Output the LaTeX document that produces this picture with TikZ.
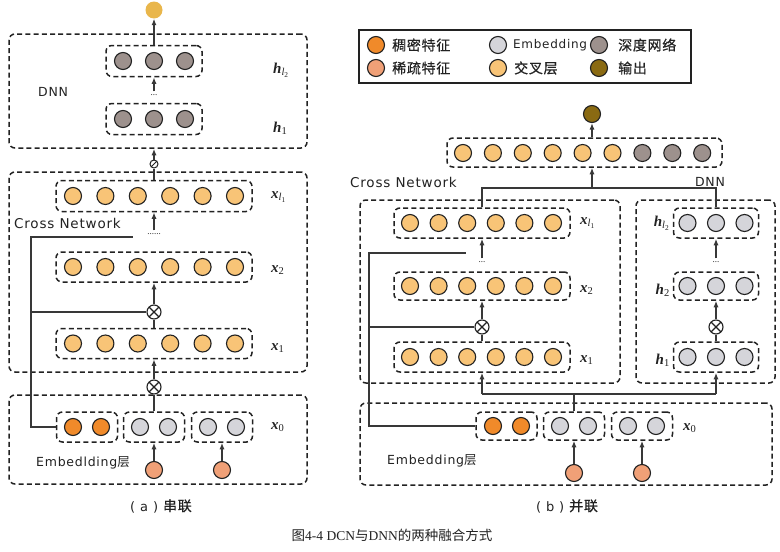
\documentclass[tikz,border=0pt]{standalone}
\usepackage{fontspec}
\setmainfont{Liberation Serif}
\newfontfamily\cjk{Noto Sans CJK SC}
\newfontfamily\cjkb[LetterSpace=5,FakeBold=0.6]{Noto Sans CJK SC}
\newfontfamily\hand[LetterSpace=6]{DejaVu Sans}
\usetikzlibrary{arrows.meta,calc}
\definecolor{densec}{HTML}{F08A2A}
\definecolor{sparsec}{HTML}{F0A077}
\definecolor{embc}{HTML}{D5D5DA}
\definecolor{crossc}{HTML}{F8C477}
\definecolor{deepc}{HTML}{9D918D}
\definecolor{outbc}{HTML}{8A6A12}
\definecolor{outac}{HTML}{E9B64B}
\definecolor{ink}{HTML}{222222}
\newcommand{\vx}[1]{\textbf{\textit{x}}\textsubscript{#1}}
\newcommand{\vh}[1]{\textbf{\textit{h}}\textsubscript{#1}}
\begin{document}
\begin{tikzpicture}[x=1pt,y=-1pt,
  dbox/.style={draw=ink, line width=1.5pt, dash pattern=on 5pt off 3.2pt, rounded corners=6pt, inner sep=0pt},
  neu/.style={circle, draw=ink, line width=1.1pt, minimum size=17pt, inner sep=0pt},
  conn/.style={line width=1.2pt, draw=ink!90},
  arr/.style={conn, -{Latex[length=6.5pt,width=5pt]}},
  otim/.style={circle, draw=ink, line width=1.1pt, minimum size=14pt, fill=white, inner sep=0pt,
    path picture={\draw[line width=1.1pt] (path picture bounding box.north west) -- (path picture bounding box.south east)
      (path picture bounding box.north east) -- (path picture bounding box.south west);}},
  slsh/.style={circle, draw=ink, line width=1pt, minimum size=8pt, fill=white, inner sep=0pt,
    path picture={\draw[line width=1pt] (path picture bounding box.south west) -- (path picture bounding box.north east);}},
  hlab/.style={font=\hand\fontsize{12.5}{14}\selectfont, text=ink, inner sep=0pt},
  mlab/.style={font=\fontsize{15}{17}\selectfont, text=ink, inner sep=0pt},
  dots/.style={font=\fontsize{9}{10}\selectfont, text=ink, inner sep=3pt},
  legt/.style={font=\cjkb\fontsize{14}{16}\selectfont, text=ink, anchor=west, inner sep=0pt}
]
\useasboundingbox (0,0) rectangle (780,552);
\fill[white] (0,0) rectangle (780,552);

% ================= (a) =================
\node[dbox, minimum width=298pt, minimum height=114pt] (dnnA) at (158,91) {};
\node[dbox, minimum width=298pt, minimum height=200pt] (crossA) at (158,272) {};
\node[dbox, minimum width=298pt, minimum height=89pt] (embA) at (158,439.5) {};

\node[circle, fill=outac, minimum size=17pt, inner sep=0pt] (outA) at (154,10) {};

\node[dbox, minimum width=96pt, minimum height=31pt] (hl2A) at (154,61) {};
\foreach \i in {0,1,2} \node[neu, fill=deepc] (hl2A\i) at ({123+31*\i},61) {};
\node[dbox, minimum width=96pt, minimum height=31pt] (h1A) at (154,119) {};
\foreach \i in {0,1,2} \node[neu, fill=deepc] (h1A\i) at ({123+31*\i},119) {};
\node[dots] (dotsA1) at (154,95) {...};
\draw[arr] (hl2A.north) -- (outA.south);
\draw[arr] (dotsA1.north) -- (hl2A.south);
\node[mlab, anchor=west] (lhl2A) at (273,70) {\vh{\textit{l}\textsubscript{2}}};
\node[mlab, anchor=west] (lh1A) at (273,128) {\vh{1}};
\node[hlab, anchor=west] (dnnlabA) at (38,92) {DNN};

\node[dbox, minimum width=196pt, minimum height=31pt] (xl1A) at (154,196) {};
\foreach \i in {0,...,5} \node[neu, fill=crossc] (xl1A\i) at ({73+32.4*\i},196) {};
\node[slsh] (symA) at (154,164) {};
\draw[conn] (xl1A.north) -- (symA.south);
\draw[arr] (symA.north) -- (symA.north |- dnnA.south);
\node[mlab, anchor=west] (lxl1A) at (271,197) {\vx{\textit{l}\textsubscript{1}}};
\node[hlab, anchor=west, font=\hand\fontsize{13.5}{15}\selectfont] (crosslabA) at (14,223) {Cross Network};
\node[dots] (dotsA2) at (154,234) {......};
\draw[arr] (dotsA2.north) -- (xl1A.south);
\coordinate (cA1) at (31,237);
\coordinate (cA2) at (133,237);

\node[dbox, minimum width=196pt, minimum height=30pt] (x2A) at (154,267) {};
\foreach \i in {0,...,5} \node[neu, fill=crossc] (x2A\i) at ({73+32.4*\i},267) {};
\node[mlab, anchor=west] (lx2A) at (271,270) {\vx{2}};
\node[otim] (otA1) at (154,312) {};
\node[dbox, minimum width=196pt, minimum height=30pt] (x1A) at (154,343.5) {};
\foreach \i in {0,...,5} \node[neu, fill=crossc] (x1A\i) at ({73+32.4*\i},343.5) {};
\node[mlab, anchor=west] (lx1A) at (271,348) {\vx{1}};
\draw[arr] (otA1.north) -- (x2A.south);
\draw[conn] (x1A.north) -- (otA1.south);
\draw[conn] (otA1.west) -- (otA1.west -| cA1);
\node[otim] (otA2) at (154,387) {};
\draw[arr] (otA2.north) -- (x1A.south);

\node[dbox, minimum width=61pt, minimum height=30pt] (eoA) at (87,427) {};
\node[neu, fill=densec] (eoA0) at (73,427) {};
\node[neu, fill=densec] (eoA1) at (101,427) {};
\node[dbox, minimum width=61pt, minimum height=30pt] (g1A) at (154,427) {};
\node[neu, fill=embc] (g1A0) at (140,427) {};
\node[neu, fill=embc] (g1A1) at (168,427) {};
\node[dbox, minimum width=61pt, minimum height=30pt] (g2A) at (222,427) {};
\node[neu, fill=embc] (g2A0) at (208,427) {};
\node[neu, fill=embc] (g2A1) at (236,427) {};
\node[mlab, anchor=west] (lx0A) at (271,427) {\vx{0}};
\draw[conn] (g1A.north) -- (otA2.south);
\draw[conn] (eoA.west) -| (cA1) -- (cA2);
\node[neu, fill=sparsec] (sA1) at (154,470) {};
\node[neu, fill=sparsec] (sA2) at (222,470) {};
\draw[arr] (sA1.north) -- (g1A.south);
\draw[arr] (sA2.north) -- (g2A.south);
\node[hlab, anchor=west] (emblabA) at (36,463) {Embedlding{\cjk 层}};
\node[hlab, font=\hand\fontsize{13}{15}\selectfont] (capA) at (161,506) {( a )\ {\cjkb\fontsize{14}{16}\selectfont 串联}};

% ================= (b) =================
\node[draw=ink, line width=1.3pt, minimum width=332pt, minimum height=53pt, inner sep=0pt] (legend) at (525,56.5) {};
\node[neu, fill=densec] (lg1) at (376,45) {};
\node[legt] (lgt1) at (392,45) {稠密特征};
\node[neu, fill=sparsec] (lg2) at (376,68) {};
\node[legt] (lgt2) at (392,68) {稀疏特征};
\node[neu, fill=embc] (lg3) at (498,45) {};
\node[hlab, anchor=west, font=\hand\fontsize{12}{14}\selectfont] (lgt3) at (513,45) {Embedding};
\node[neu, fill=crossc] (lg4) at (498,68) {};
\node[legt] (lgt4) at (514,68) {交叉层};
\node[neu, fill=deepc] (lg5) at (599,45) {};
\node[legt] (lgt5) at (618,45) {深度网络};
\node[neu, fill=outbc] (lg6) at (599,68) {};
\node[legt] (lgt6) at (618,68) {输出};

\node[neu, fill=outbc] (outB) at (592,114) {};
\node[dbox, minimum width=275pt, minimum height=29pt] (catB) at (584.5,152.5) {};
\foreach \i in {0,...,5} \node[neu, fill=crossc] (catB\i) at ({463+29.9*\i},153) {};
\foreach \i in {6,7,8} \node[neu, fill=deepc] (catB\i) at ({463+29.9*\i},153) {};
\draw[arr] (outB |- catB.north) -- (outB.south);
\coordinate (jB) at (592,188);
\draw[arr] (jB) -- (jB |- catB.south);

\node[hlab, anchor=west, font=\hand\fontsize{13.5}{15}\selectfont] (crosslabB) at (350,182) {Cross Network};
\node[hlab] (dnnlabB) at (710,182) {DNN};

\node[dbox, minimum width=260pt, minimum height=183pt] (crossB) at (490,291.5) {};
\node[dbox, minimum width=139pt, minimum height=183pt] (dnnB) at (705.5,291.5) {};
\node[dbox, minimum width=412pt, minimum height=82pt] (embB) at (566,444) {};

\node[dbox, minimum width=176pt, minimum height=30pt] (xl1B) at (482,223) {};
\foreach \i in {0,...,5} \node[neu, fill=crossc] (xl1B\i) at ({410+28.6*\i},223) {};
\node[dbox, minimum width=176pt, minimum height=28pt] (x2B) at (482,286) {};
\foreach \i in {0,...,5} \node[neu, fill=crossc] (x2B\i) at ({410+28.6*\i},286) {};
\node[dbox, minimum width=176pt, minimum height=30pt] (x1B) at (482,357) {};
\foreach \i in {0,...,5} \node[neu, fill=crossc] (x1B\i) at ({410+28.6*\i},357) {};
\node[mlab, anchor=west] (lxl1B) at (580,223) {\vx{\textit{l}\textsubscript{1}}};
\node[mlab, anchor=west] (lx2B) at (580,290) {\vx{2}};
\node[mlab, anchor=west] (lx1B) at (580,360) {\vx{1}};

\node[dbox, minimum width=85pt, minimum height=30pt] (hl2B) at (716,223) {};
\foreach \i in {0,1,2} \node[neu, fill=embc] (hl2B\i) at ({687.5+28.5*\i},223) {};
\node[dbox, minimum width=85pt, minimum height=28pt] (h2B) at (716,286) {};
\foreach \i in {0,1,2} \node[neu, fill=embc] (h2B\i) at ({687.5+28.5*\i},286) {};
\node[dbox, minimum width=85pt, minimum height=30pt] (h1B) at (716,357) {};
\foreach \i in {0,1,2} \node[neu, fill=embc] (h1B\i) at ({687.5+28.5*\i},357) {};
\node[mlab, anchor=east] (lhl2B) at (670,223) {\vh{\textit{l}\textsubscript{2}}};
\node[mlab, anchor=east] (lh2B) at (670,290) {\vh{2}};
\node[mlab, anchor=east] (lh1B) at (670,360) {\vh{1}};

\draw[conn] (xl1B.north) -- (xl1B.north |- jB) -- (hl2B.north |- jB) -- (hl2B.north);

\node[dots] (dotsB1) at (482,262) {...};
\draw[arr] (dotsB1.north) -- (xl1B.south);
\node[dots] (dotsB2) at (716,262) {...};
\draw[arr] (dotsB2.north) -- (hl2B.south);
\coordinate (cB1) at (369,253);
\coordinate (cB2) at (466,253);

\node[otim] (otB1) at (482,327) {};
\draw[arr] (otB1.north) -- (x2B.south);
\draw[conn] (x1B.north) -- (otB1.south);
\draw[conn] (otB1.west) -- (otB1.west -| cB1);
\node[otim] (otB2) at (716,327) {};
\draw[arr] (otB2.north) -- (h2B.south);
\draw[conn] (h1B.north) -- (otB2.south);

\node[dbox, minimum width=61pt, minimum height=28pt] (eoB) at (506.5,426) {};
\node[neu, fill=densec] (eoB0) at (493,426) {};
\node[neu, fill=densec] (eoB1) at (521,426) {};
\node[dbox, minimum width=61pt, minimum height=28pt] (g1B) at (574,426) {};
\node[neu, fill=embc] (g1B0) at (560,426) {};
\node[neu, fill=embc] (g1B1) at (588,426) {};
\node[dbox, minimum width=61pt, minimum height=28pt] (g2B) at (642,426) {};
\node[neu, fill=embc] (g2B0) at (628,426) {};
\node[neu, fill=embc] (g2B1) at (656,426) {};
\node[mlab, anchor=west] (lx0B) at (683,428) {\vx{0}};

\coordinate (jB2) at (574,394);
\draw[conn] (g1B.north) -- (jB2);
\draw[conn] (x1B.south |- jB2) -- (h1B.south |- jB2);
\draw[arr] (x1B.south |- jB2) -- (x1B.south);
\draw[arr] (h1B.south |- jB2) -- (h1B.south);
\draw[conn] (eoB.west) -| (cB1) -- (cB2);

\node[neu, fill=sparsec] (sB1) at (574,473) {};
\node[neu, fill=sparsec] (sB2) at (642,473) {};
\draw[arr] (sB1.north) -- (g1B.south);
\draw[arr] (sB2.north) -- (g2B.south);
\node[hlab, anchor=west] (emblabB) at (387,461) {Embedding{\cjk 层}};
\node[hlab, font=\hand\fontsize{13}{15}\selectfont] (capB) at (567,506) {( b )\ {\cjkb\fontsize{14}{16}\selectfont 并联}};

% caption
\node[font=\fontsize{13.5}{15}\selectfont, text=ink, inner sep=0pt] (caption) at (392,535) {{\cjk 图}4-4 DCN{\cjk 与}DNN{\cjk 的两种融合方式}};
\end{tikzpicture}
\end{document}
